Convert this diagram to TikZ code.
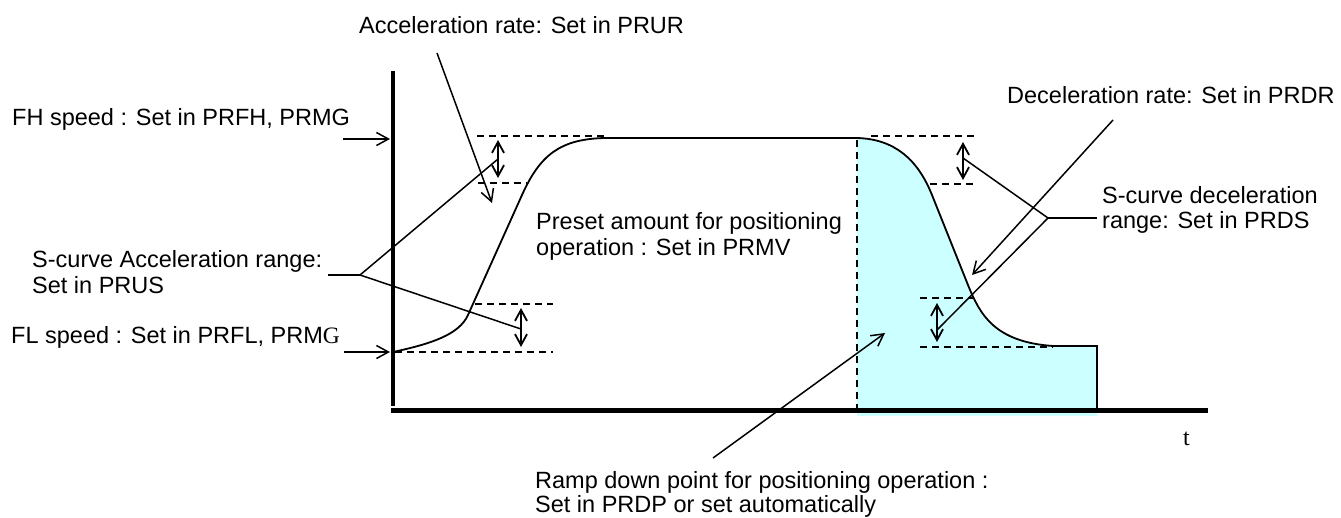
\documentclass[tikz,border=0pt]{standalone}
\usepackage{fontspec}
\setmainfont{Liberation Serif}
\setsansfont{Liberation Sans}
\usetikzlibrary{arrows.meta}
\definecolor{fillcyan}{HTML}{CCFFFF}
\tikzset{
  lbl/.style={anchor=base west, inner sep=0pt, font=\sffamily\fontsize{23.5}{26}\selectfont},
  lead/.style={line width=1.5pt},
  leadarrow/.style={line width=1.5pt, -{Straight Barb[length=12pt,width=13pt,line width=1.5pt]}},
  dbl/.style={line width=2pt, {Straight Barb[length=11pt,width=12pt,line width=1.8pt]}-{Straight Barb[length=11pt,width=12pt,line width=1.8pt]}},
  guide/.style={line width=1.5pt, dash pattern=on 7pt off 5pt},
  axisline/.style={line width=4.5pt},
  curve/.style={line width=1.8pt},
}
\begin{document}
\begin{tikzpicture}[x=1pt,y=-1pt]
\useasboundingbox (0,0) rectangle (1341,517);

% fill region
\fill[fillcyan] (857,138) .. controls (895,139) and (918,160) .. (932,195)
  -- (968,285) .. controls (980,315) and (995,342) .. (1053,346)
  -- (1097,346) -- (1097,416) -- (857,416) -- cycle;

% axes
\coordinate (vtop) at (393,71);
\coordinate (vbot) at (393,406);
\coordinate (hl) at (391,410.5);
\coordinate (hr) at (1208,410.5);
\draw[line width=4pt] (vtop) -- (vbot);
\draw[axisline] (hl) -- (hr);

% speed curve
\draw[curve] (393,352) .. controls (430,344) and (459,335) .. (468,315)
  -- (522,195) .. controls (540,155) and (560,139) .. (605,138)
  -- (857,138) .. controls (895,139) and (918,160) .. (932,195)
  -- (968,285) .. controls (980,315) and (995,342) .. (1053,346)
  -- (1097,346) -- (1097,410);

% dashed guides
\draw[guide] (477,136) -- (605,136);
\draw[guide] (478,183) -- (527,183);
\draw[guide] (475,304) -- (553,304);
\draw[guide] (395,352) -- (553,352);
\draw[guide] (871,136) -- (977,136);
\draw[guide] (930,184) -- (978,184);
\draw[guide] (920,298) -- (973,298);
\draw[guide] (920,347) -- (1053,347);
\draw[guide] (857,140) -- (857,410);

% double arrows (S-curve ranges)
\coordinate (a1t) at (498,140); \coordinate (a1b) at (498,178); \coordinate (a1m) at (498,159);
\coordinate (a2t) at (521,308); \coordinate (a2b) at (521,347); \coordinate (a2m) at (521,329);
\coordinate (d1t) at (963,142); \coordinate (d1b) at (963,180); \coordinate (d1m) at (963,158);
\coordinate (d2t) at (937,303); \coordinate (d2b) at (937,342); \coordinate (d2m) at (937,330);
\draw[dbl] (a1t) -- (a1b);
\draw[dbl] (a2t) -- (a2b);
\draw[dbl] (d1t) -- (d1b);
\draw[dbl] (d2t) -- (d2b);

% labels
\node[lbl] (accrate) at (359,33) {Acceleration rate: Set in PRUR};
\node[lbl] (fh) at (12,125) {FH speed : Set in PRFH, PRMG};
\node[lbl] (sacc1) at (32,267) {S-curve Acceleration range:};
\node[lbl] (sacc2) at (32,293) {Set in PRUS};
\node[lbl] (fl) at (11,343) {FL speed : Set in PRFL, PRM{\rmfamily G}};
\node[lbl] (preset1) at (536,229) {Preset amount for positioning};
\node[lbl] (preset2) at (536,255) {operation : Set in PRMV};
\node[lbl] (decrate) at (1007,103) {Deceleration rate: Set in PRDR};
\node[lbl] (sdec1) at (1102,203) {S-curve deceleration};
\node[lbl] (sdec2) at (1102,228) {range: Set in PRDS};
\node[lbl] (ramp1) at (535,488) {Ramp down point for positioning operation :};
\node[lbl] (ramp2) at (535,512) {Set in PRDP or set automatically};
\node[anchor=base west, inner sep=0pt, font=\rmfamily\fontsize{24}{26}\selectfont] (tlbl) at (1183,445) {t};

% speed arrows
\coordinate (fhs) at (343,139); \coordinate (fhe) at (390,139);
\coordinate (fls) at (344,352); \coordinate (fle) at (390,352);
\draw[leadarrow] (fhs) -- (fhe);
\draw[leadarrow] (fls) -- (fle);

% acceleration rate leader
\coordinate (accs) at (437,53); \coordinate (acce) at (492,203);
\draw[leadarrow] (accs) -- (acce);

% S-curve acceleration leaders
\coordinate (j1) at (360,275); \coordinate (j1s) at (328,275);
\draw[lead] (j1s) -- (j1);
\draw[lead] (j1) -- (a1m);
\draw[lead] (j1) -- (a2m);

% deceleration rate leader
\coordinate (decs) at (1113,120); \coordinate (dece) at (972,275);
\draw[leadarrow] (decs) -- (dece);

% S-curve deceleration leaders
\coordinate (j2) at (1048,218); \coordinate (j2s) at (1097,218);
\draw[lead] (j2s) -- (j2);
\draw[lead] (j2) -- (d1m);
\draw[lead] (j2) -- (d2m);

% ramp down leader
\coordinate (ramps) at (713,458); \coordinate (rampe) at (885,333);
\draw[leadarrow] (ramps) -- (rampe);
\end{tikzpicture}
\end{document}
